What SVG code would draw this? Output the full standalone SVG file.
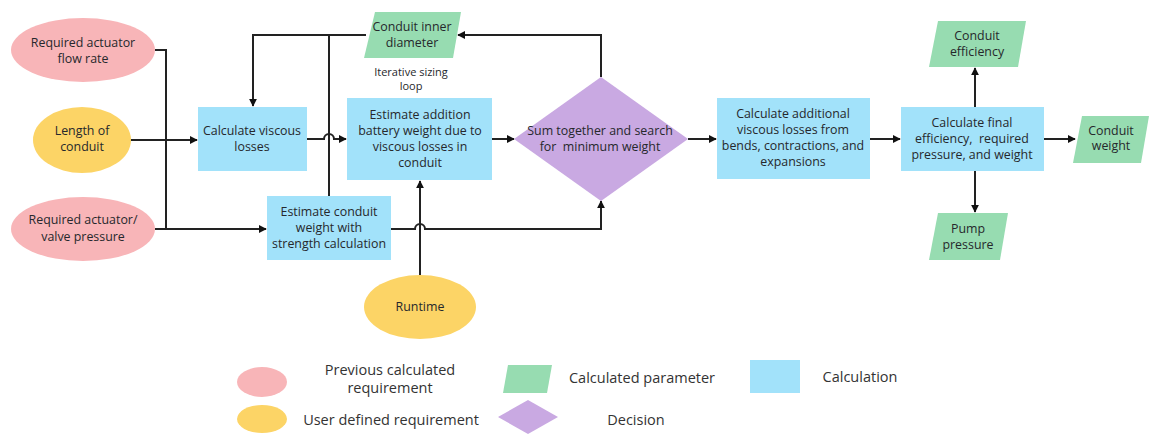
<svg xmlns="http://www.w3.org/2000/svg" width="1149" height="437" viewBox="0 0 1149 437">
<style>
.t{font-family:"Open Sans","Noto Sans","Liberation Sans",sans-serif;font-size:12.4px;fill:#26282c;text-anchor:middle;white-space:pre}
.lg{font-family:"Open Sans","Noto Sans","Liberation Sans",sans-serif;font-size:14.5px;fill:#333;text-anchor:middle;white-space:pre}
.pink{fill:#f8b5b8}
.yel{fill:#fcd466}
.blue{fill:#a2e2fa}
.green{fill:#97dcb1}
.purp{fill:#c9a9e2}
.ln{fill:none;stroke:#222;stroke-width:2}
</style>
<defs>
<marker id="ah" viewBox="0 0 10 10" refX="9" refY="5" markerWidth="8" markerHeight="8" markerUnits="userSpaceOnUse" orient="auto">
<path d="M0,0 L10,5 L0,10 z" fill="#111"/>
</marker>
</defs>
<rect width="1149" height="437" fill="#fff"/>

<g id="connectors">
<path class="ln" d="M155,50 H166 V229"/>
<path class="ln" d="M130,140 H197" marker-end="url(#ah)"/>
<path class="ln" d="M155,229 H266" marker-end="url(#ah)"/>
<path class="ln" d="M366,35 H253 V106" marker-end="url(#ah)"/>
<path class="ln" d="M329,35 V196"/>
<path class="ln" d="M307,139 H324 A5,5 0 0 1 334,139 H346" marker-end="url(#ah)"/>
<path class="ln" d="M492,139 H514" marker-end="url(#ah)"/>
<path class="ln" d="M601,77 V35 H458" marker-end="url(#ah)"/>
<path class="ln" d="M391,229 H415 A5,5 0 0 1 425,229 H601 V201" marker-end="url(#ah)"/>
<path class="ln" d="M420,276 V181" marker-end="url(#ah)"/>
<path class="ln" d="M688,139 H716" marker-end="url(#ah)"/>
<path class="ln" d="M870,139 H900" marker-end="url(#ah)"/>
<path class="ln" d="M975,107 V68" marker-end="url(#ah)"/>
<path class="ln" d="M975,171 V212" marker-end="url(#ah)"/>
<path class="ln" d="M1044,139 H1075" marker-end="url(#ah)"/>
</g>

<g id="flow-rate">
<ellipse class="pink" cx="83" cy="50" rx="72" ry="32"/>
<text class="t" x="83" y="47">Required actuator</text>
<text class="t" x="83" y="63">flow rate</text>
</g>
<g id="length">
<ellipse class="yel" cx="82" cy="140" rx="49" ry="33"/>
<text class="t" x="82" y="135">Length of</text>
<text class="t" x="82" y="151">conduit</text>
</g>
<g id="valve-pressure">
<ellipse class="pink" cx="83" cy="229" rx="72" ry="32"/>
<text class="t" x="83" y="224">Required actuator/</text>
<text class="t" x="83" y="241">valve pressure</text>
</g>
<g id="calc-viscous">
<rect class="blue" x="198" y="107" width="109" height="64"/>
<text class="t" x="252" y="135">Calculate viscous</text>
<text class="t" x="252" y="151">losses</text>
</g>
<g id="estimate-weight">
<rect class="blue" x="267" y="196" width="124" height="64"/>
<text class="t" x="329" y="216">Estimate conduit</text>
<text class="t" x="329" y="232">weight with</text>
<text class="t" x="329" y="248">strength calculation</text>
</g>
<g id="battery">
<rect class="blue" x="347" y="98" width="145" height="82"/>
<text class="t" x="420" y="119">Estimate addition</text>
<text class="t" x="420" y="135">battery weight due to</text>
<text class="t" x="420" y="151">viscous losses in</text>
<text class="t" x="420" y="167">conduit</text>
</g>
<g id="inner-diameter">
<polygon class="green" points="375,12 461,12 453,58 364,58"/>
<text class="t" x="412" y="31">Conduit inner</text>
<text class="t" x="412" y="47">diameter</text>
</g>
<g id="loop-label">
<text class="t" x="411" y="76" style="font-size:11px">Iterative sizing</text>
<text class="t" x="411" y="90" style="font-size:11px">loop</text>
</g>
<g id="runtime">
<ellipse class="yel" cx="420" cy="307" rx="56" ry="32"/>
<text class="t" x="420" y="311">Runtime</text>
</g>
<g id="decision">
<polygon class="purp" points="601,77 688,139 601,201 514,139"/>
<text class="t" x="600" y="135">Sum together and search</text>
<text class="t" x="600" y="151">for  minimum weight</text>
</g>
<g id="calc-additional">
<rect class="blue" x="717" y="98" width="153" height="81"/>
<text class="t" x="793" y="118">Calculate additional</text>
<text class="t" x="793" y="134">viscous losses from</text>
<text class="t" x="793" y="150">bends, contractions, and</text>
<text class="t" x="793" y="166">expansions</text>
</g>
<g id="calc-final">
<rect class="blue" x="901" y="107" width="143" height="64"/>
<text class="t" x="972" y="127">Calculate final</text>
<text class="t" x="972" y="143">efficiency,  required</text>
<text class="t" x="972" y="159">pressure, and weight</text>
</g>
<g id="efficiency">
<polygon class="green" points="938,21 1026,21 1018,67 929,67"/>
<text class="t" x="977" y="40">Conduit</text>
<text class="t" x="977" y="56">efficiency</text>
</g>
<g id="pump-pressure">
<polygon class="green" points="938,213 1008,213 1000,260 929,260"/>
<text class="t" x="968" y="233">Pump</text>
<text class="t" x="968" y="249">pressure</text>
</g>
<g id="conduit-weight">
<polygon class="green" points="1082,116 1149,116 1141,163 1073,163"/>
<text class="t" x="1111" y="135">Conduit</text>
<text class="t" x="1111" y="150">weight</text>
</g>

<g id="legend">
<ellipse class="pink" cx="262" cy="382" rx="25" ry="15"/>
<text class="lg" x="390" y="375">Previous calculated</text>
<text class="lg" x="390" y="393">requirement</text>
<ellipse class="yel" cx="262" cy="419" rx="25" ry="14"/>
<text class="lg" x="391" y="425">User defined requirement</text>
<polygon class="green" points="508,365 552,365 547,393 503,393"/>
<text class="lg" x="642" y="383">Calculated parameter</text>
<polygon class="purp" points="528,400 558,417 528,434 498,417"/>
<text class="lg" x="636" y="425">Decision</text>
<rect class="blue" x="750" y="360" width="50" height="33"/>
<text class="lg" x="860" y="382">Calculation</text>
</g>
</svg>
